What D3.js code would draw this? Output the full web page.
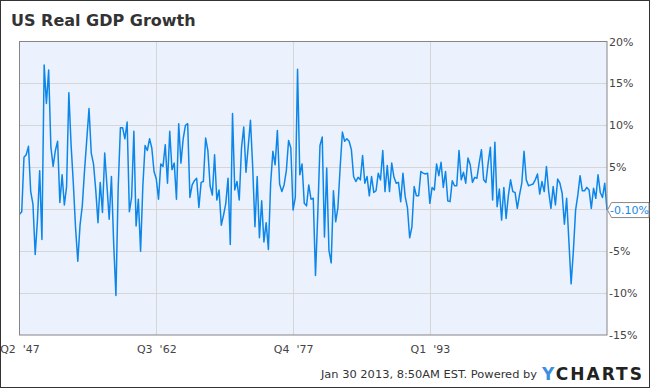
<!DOCTYPE html>
<html lang="en">
<head>
  <meta charset="UTF-8">
  <title>US Real GDP Growth</title>
  <script src="https://d3js.org/d3.v7.min.js"></script>
  <style>
    body { margin: 0; font-family: "DejaVu Sans", sans-serif; background: #fff; }
    .axis text { font-family: "DejaVu Sans", sans-serif; font-size: 11px; fill: #444; white-space: pre; }
    .axis path, .axis line { display: none; }
    .grid line { stroke: #d6d6d6; stroke-width: 1; }
  </style>
</head>
<body>
  <svg id="chart" width="650" height="388"></svg>

  <script>
    // quarterly real GDP growth, annualised %, Q2 1947 .. Q4 2012
    const gdpGrowth = [
      -0.6, -0.3, 6.2,
      6.5, 7.5, 2.1, 0.6,      // 1948
      -5.4, -1.3, 4.6, -3.6,   // 1949
      17.2, 12.6, 16.6, 7.4,   // 1950
      5.1, 7.0, 8.1, 0.8,      // 1951
      4.1, 0.5, 2.7, 13.9,     // 1952
      7.7, 3.1, -2.2, -6.2,    // 1953
      -1.9, 0.4, 4.6, 8.3,     // 1954
      12.0, 6.7, 5.4, 2.3,     // 1955
      -1.6, 3.2, -0.4, 6.7,    // 1956
      2.8, -1.2, 3.9, -4.1,    // 1957
      -10.3, 2.5, 9.7, 9.7,    // 1958
      8.4, 10.4, -0.3, 1.4,    // 1959
      9.3, -2.0, 1.2, -5.0,    // 1960
      2.7, 7.6, 7.0, 8.4,      // 1961
      7.3, 4.5, 3.6, 1.2,      // 1962
      5.4, 5.1, 7.7, 3.1,      // 1963
      9.3, 4.7, 5.5, 1.2,      // 1964
      10.2, 5.5, 8.4, 10.0,    // 1965
      10.2, 1.4, 2.9, 3.4,     // 1966
      3.7, 0.2, 3.2, 3.3,      // 1967
      8.5, 7.0, 2.8, 1.7,      // 1968
      6.5, 1.1, 2.3, -1.9,     // 1969
      -0.7, 0.7, 3.7, -4.2,    // 1970
      11.4, 2.3, 3.3, 1.1,     // 1971
      7.3, 9.8, 4.4, 7.5,      // 1972
      10.6, 5.0, -2.1, 3.9,    // 1973
      -3.4, 1.0, -3.9, -1.6,   // 1974
      -4.8, 3.1, 6.9, 5.3,     // 1975
      9.4, 3.0, 2.1, 2.9,      // 1976
      4.6, 8.2, 7.3, -0.1,     // 1977
      1.4, 16.7, 4.1, 5.4,     // 1978
      0.7, 0.4, 2.9, 1.2,      // 1979
      1.3, -7.9, -0.7, 7.6,    // 1980
      8.6, -3.3, 4.9, -4.9,    // 1981
      -6.4, 2.2, -1.5, 0.2,    // 1982
      5.0, 9.2, 8.1, 8.4,      // 1983
      8.1, 7.1, 3.9, 3.3,      // 1984
      3.8, 3.5, 6.4, 3.1,      // 1985
      3.9, 1.6, 3.9, 2.0,      // 1986
      2.2, 4.3, 3.5, 7.0,      // 1987
      2.1, 5.2, 2.1, 5.5,      // 1988
      3.8, 3.1, 3.2, 0.9,      // 1989
      4.3, 1.5, 0.2, -3.4,     // 1990
      -2.1, 2.7, 1.6, 1.6,     // 1991
      4.5, 4.3, 4.2, 4.3,      // 1992
      0.7, 2.6, 2.3, 5.4,      // 1993
      4.0, 5.6, 2.6, 4.5,      // 1994
      1.0, 0.9, 3.4, 2.8,      // 1995
      2.8, 7.0, 3.5, 4.4,      // 1996
      3.1, 6.1, 5.3, 3.2,      // 1997
      3.8, 3.7, 5.5, 7.1,      // 1998
      3.5, 3.2, 5.5, 7.4,      // 1999
      1.1, 8.0, 0.3, 2.4,      // 2000
      -1.3, 2.6, -1.1, 1.6,    // 2001
      3.5, 2.1, 2.0, 0.1,      // 2002
      1.7, 3.1, 6.9, 3.5,      // 2003
      2.8, 2.9, 3.0, 3.5,      // 2004
      4.2, 1.8, 3.3, 2.1,      // 2005
      5.1, 2.1, 0.1, 2.7,      // 2006
      0.5, 3.6, 3.1, 1.9,      // 2007
      -1.8, 1.3, -3.8, -8.9,   // 2008
      -5.0, -0.1, 1.7, 4.0,    // 2009
      2.2, 2.2, 2.6, 2.3,      // 2010
      0.1, 2.5, 1.3, 4.1,      // 2011
      2.0, 1.4, 3.1, -0.1      // 2012
    ];

    // x ticks: quarter index from Q2 '47, and their labels
    const xTickIndex = [0, 61, 122, 183];
    const xTickLabels = ["Q2  '47", "Q3  '62", "Q4  '77", "Q1  '93"];
    const yTicks = [-15, -10, -5, 0, 5, 10, 15, 20];

    const svg = d3.select("#chart");
    const W = 650, H = 388;
    const plot = { left: 19.5, top: 41.5, right: 607, bottom: 335 };

    const x = d3.scaleLinear().domain([0, gdpGrowth.length - 1]).range([plot.left, plot.right]);
    const y = d3.scaleLinear().domain([-15, 20]).range([plot.bottom, plot.top]);

    // outer frame
    svg.append("rect")
       .attr("x", 0.5).attr("y", 0.5).attr("width", W - 1).attr("height", H - 1)
       .attr("fill", "#fff").attr("stroke", "#333");

    svg.append("text")
       .attr("x", 11).attr("y", 26)
       .attr("font-size", "16px").attr("font-weight", "bold").attr("fill", "#333")
       .text("US Real GDP Growth");

    // plot background
    svg.append("rect")
       .attr("x", plot.left).attr("y", plot.top)
       .attr("width", plot.right - plot.left).attr("height", plot.bottom - plot.top)
       .attr("fill", "#ebf2fd");

    // grid
    const grid = svg.append("g").attr("class", "grid");
    grid.selectAll(".h").data(yTicks.slice(1, -1)).enter().append("line")
        .attr("x1", plot.left).attr("x2", plot.right)
        .attr("y1", d => Math.round(y(d)) + 0.5).attr("y2", d => Math.round(y(d)) + 0.5);
    grid.selectAll(".v").data(xTickIndex.slice(1)).enter().append("line")
        .attr("y1", plot.top).attr("y2", plot.bottom)
        .attr("x1", d => Math.round(x(d)) + 0.5).attr("x2", d => Math.round(x(d)) + 0.5);

    // the series
    const line = d3.line().x((d, i) => x(i)).y(d => y(d));
    svg.append("path")
       .datum(gdpGrowth)
       .attr("d", line)
       .attr("fill", "none")
       .attr("stroke", "#0d86e9")
       .attr("stroke-width", 1.5)
       .attr("stroke-linejoin", "round");

    // plot border
    svg.append("rect")
       .attr("x", plot.left).attr("y", plot.top)
       .attr("width", plot.right - plot.left).attr("height", plot.bottom - plot.top)
       .attr("fill", "none").attr("stroke", "#858585");

    // right axis (0% sits under the last-value callout, so it is not labelled)
    svg.append("g")
       .attr("class", "axis")
       .attr("transform", `translate(${plot.right},0)`)
       .call(d3.axisRight(y).tickValues(yTicks.filter(d => d !== 0))
                .tickSize(0).tickPadding(2).tickFormat(d => d + "%"));

    // bottom axis
    svg.append("g")
       .attr("class", "axis")
       .attr("transform", `translate(0,${plot.bottom})`)
       .call(d3.axisBottom(x).tickValues(xTickIndex).tickSize(0).tickPadding(10)
                .tickFormat((d, i) => xTickLabels[i]));

    // last value callout
    const last = gdpGrowth[gdpGrowth.length - 1];
    const ly = y(last);
    svg.append("path")
       .attr("d", `M${plot.right + 0.5},${ly} L${plot.right + 4.5},${ly - 7.5} H649 V${ly + 7.5} H${plot.right + 4.5} Z`)
       .attr("fill", "#fff").attr("stroke", "#888");
    svg.append("text")
       .attr("x", plot.right + 3).attr("y", ly).attr("dy", "0.35em")
       .attr("font-size", "11px").attr("fill", "#1a88e6")
       .text(last.toFixed(2) + "%");

    // footer
    svg.append("text")
       .attr("x", 537).attr("y", 378).attr("text-anchor", "end")
       .attr("font-size", "11px").attr("fill", "#333")
       .attr("textLength", 216).attr("lengthAdjust", "spacingAndGlyphs")
       .text("Jan 30 2013, 8:50AM EST. Powered by");
    const logo = svg.append("text")
       .attr("x", 542).attr("y", 380)
       .attr("font-size", "17px").attr("font-weight", "bold")
       .attr("textLength", 100).attr("lengthAdjust", "spacing");
    logo.append("tspan").attr("fill", "#3b8fe2").text("Y");
    logo.append("tspan").attr("fill", "#222").text("CHARTS");
  </script>
</body>
</html>
